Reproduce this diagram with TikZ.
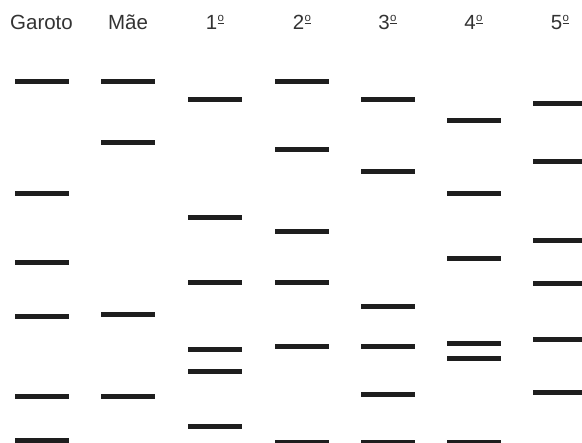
\documentclass[tikz,border=0pt]{standalone}
\usepackage{fontspec}
\setmainfont{Liberation Sans}
\definecolor{bandcol}{HTML}{1E1E1E}
\definecolor{txtcol}{HTML}{333333}
\newcommand\ordo{\kern0.3pt\raisebox{8.2pt}{\fontsize{11.5}{12}\selectfont\underline{o}}}
\begin{document}
\begin{tikzpicture}[x=1pt,y=-1pt,
  hdr/.style={anchor=base,inner sep=0pt,text=txtcol,font=\fontsize{20.5}{24}\selectfont},
  band/.style={fill=bandcol}]
\useasboundingbox (0,0) rectangle (582,443);
\fill[white] (0,0) rectangle (582,443);
\clip (0,0) rectangle (582,443);
% headers
\node[hdr] (hGaroto) at (41.5,29.5) {Garoto};
\node[hdr] (hMae) at (128,29.5) {Mãe};
\node[hdr] (h1) at (215,29.5) {1\ordo};
\node[hdr] (h2) at (302,29.5) {2\ordo};
\node[hdr] (h3) at (387.5,29.5) {3\ordo};
\node[hdr] (h4) at (473.5,29.5) {4\ordo};
\node[hdr] (h5) at (560,29.5) {5\ordo};
% bands: \bandat{left x}{center y}
\newcommand\bandat[2]{\fill[band] (#1,#2-2.5) rectangle ++(54,5);}
% Garoto
\foreach \y in {82,194,263,317,397} {\bandat{14.5}{\y}}
\fill[band] (14.5,438) rectangle ++(54,8);
% Mae
\foreach \y in {82,143,315,397} {\bandat{101}{\y}}
% 1
\foreach \y in {100,218,283,350,372,427} {\bandat{188}{\y}}
% 2
\foreach \y in {82,150,232,283,347,442.5} {\bandat{275}{\y}}
% 3
\foreach \y in {100,172,307,347,395,442.5} {\bandat{361}{\y}}
% 4
\foreach \y in {121,194,259,344,359,442.5} {\bandat{447}{\y}}
% 5
\foreach \y in {104,162,241,284,340,393} {\bandat{533}{\y}}
\end{tikzpicture}
\end{document}
